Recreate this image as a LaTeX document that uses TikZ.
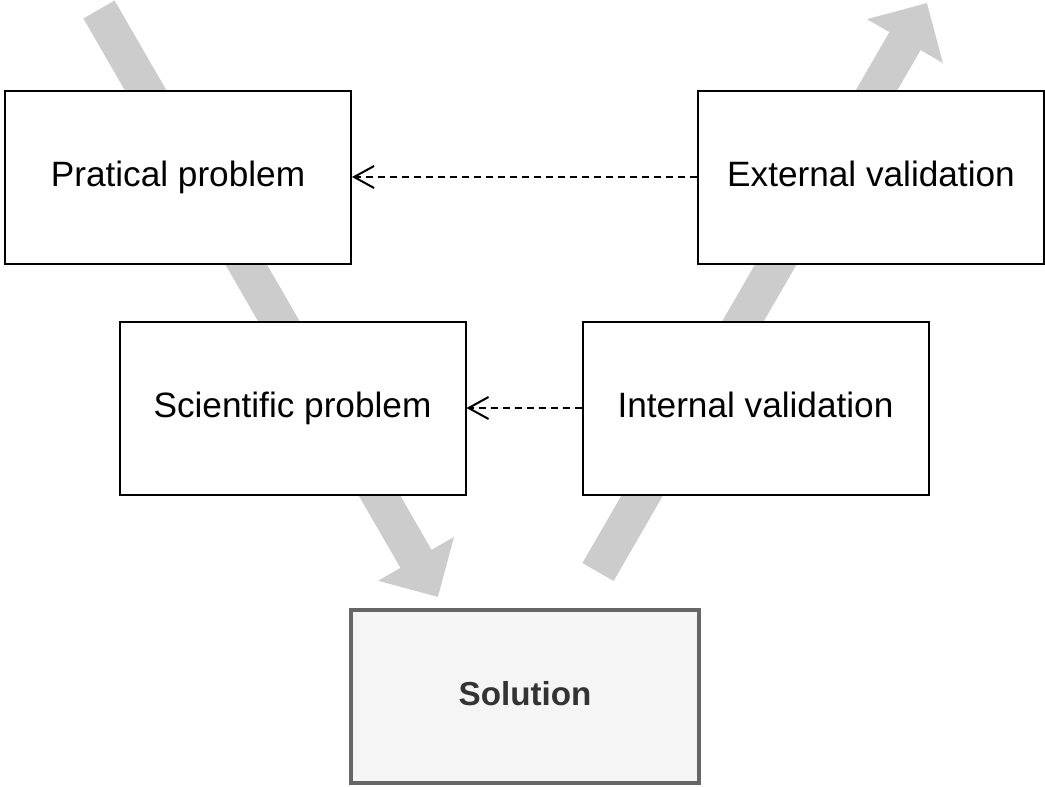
\documentclass[tikz,border=0pt]{standalone}
\usepackage{fontspec}
\setmainfont{Liberation Sans}
\usetikzlibrary{arrows.meta}
\definecolor{flowgray}{HTML}{CCCCCC}
\definecolor{solfill}{HTML}{F5F5F5}
\definecolor{solline}{HTML}{666666}
\definecolor{soltext}{HTML}{333333}

\begin{document}
\begin{tikzpicture}[x=0.5pt, y=-0.5pt,
    box/.style={draw=black, line width=1pt, fill=white,
                minimum width=173pt, minimum height=86.5pt, inner sep=0pt,
                text height=12.4pt, text depth=2.5pt,
                font=\fontsize{17.6}{21}\selectfont},
    solbox/.style={box, draw=solline, line width=2pt, fill=solfill,
                   text=soltext, minimum width=174pt,
                   font=\fontsize{16.6}{20}\selectfont\bfseries},
    flow/.style={draw=flowgray, line width=18pt,
                 -{Triangle[length=22pt, width=42.5pt]}},
    feedback/.style={draw=black, line width=1pt, dash pattern=on 3.5pt off 2.5pt,
                     -{Straight Barb[length=10pt, width=11pt, line cap=butt]}}]
    \useasboundingbox (0,0) rectangle (1045,787);

    % wide grey flow arrows
    \coordinate (downstart) at (99,9.5);
    \coordinate (downtip) at (438,597);
    \coordinate (upstart) at (598,572);
    \coordinate (uptip) at (927,3);
    \draw[flow] (downstart) -- (downtip);
    \draw[flow] (upstart) -- (uptip);

    % boxes
    \node[box] (pracprob) at (178,177) {Pratical problem};
    \node[box] (extval) at (871,177) {External validation};
    \node[box] (sciprob) at (292.5,408) {Scientific problem};
    \node[box] (intval) at (755.5,408) {Internal validation};
    \node[solbox] (solution) at (525,696) {Solution};

    % feedback links
    \draw[feedback] (extval.west) -- (pracprob.east);
    \draw[feedback] (intval.west) -- (sciprob.east);
\end{tikzpicture}
\end{document}
